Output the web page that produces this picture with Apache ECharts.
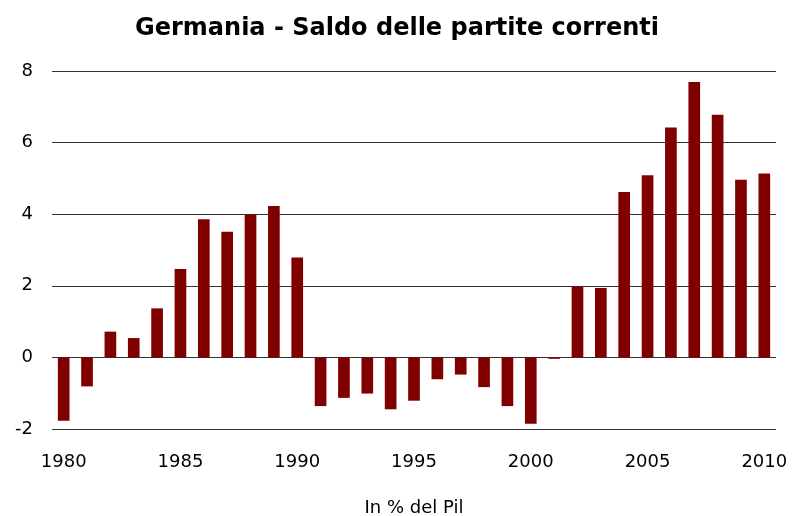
<!DOCTYPE html>
<html>
<head>
<meta charset="utf-8">
<script src="https://cdn.jsdelivr.net/npm/echarts@6/dist/echarts.min.js"></script>
<style>
  html, body { margin: 0; padding: 0; background: #fff; }
  #chart { width: 794px; height: 516px; }
</style>
</head>
<body>
<div id="chart"></div>
<script>
// anni e saldo delle partite correnti (% del Pil)
const years = [
  1980, 1981, 1982, 1983, 1984, 1985, 1986, 1987, 1988, 1989,
  1990, 1991, 1992, 1993, 1994, 1995, 1996, 1997, 1998, 1999,
  2000, 2001, 2002, 2003, 2004, 2005, 2006, 2007, 2008, 2009, 2010
]
const saldo = [
  -1.77, -0.81, 0.72, 0.54, 1.37, 2.47, 3.86, 3.51, 3.99, 4.23,
  2.79, -1.36, -1.13, -1.01, -1.45, -1.21, -0.61, -0.48, -0.83, -1.36,
  -1.85, -0.04, 1.99, 1.94, 4.62, 5.09, 6.42, 7.69, 6.78, 4.96, 5.14
]
const yTicks = [-2, 0, 2, 4, 6, 8]

const font = 'DejaVu Sans'
const chart = echarts.init(document.getElementById('chart'))
chart.setOption({
  animation: false,
  title: {
    text: 'Germania - Saldo delle partite correnti',
    left: 'center',
    top: 12,
    textStyle: { fontFamily: font, fontSize: 24, fontWeight: 'bold', color: '#000' }
  },
  grid: { left: 52, right: 18, top: 71, bottom: 87, outerBoundsMode: 'none' },
  xAxis: {
    type: 'category',
    data: years.map(String),
    axisLine: { show: false, onZero: false },
    axisTick: { show: false },
    axisLabel: {
      interval: 4,
      margin: 24,
      fontFamily: font,
      fontSize: 18,
      color: '#000'
    },
    name: 'In % del Pil',
    nameLocation: 'middle',
    nameGap: 70,
    nameTextStyle: { fontFamily: font, fontSize: 18, color: '#000' }
  },
  yAxis: {
    type: 'value',
    min: yTicks[0],
    max: yTicks[yTicks.length - 1],
    interval: 2,
    axisLine: { show: false },
    axisTick: { show: false },
    axisLabel: {
      margin: 19,
      fontFamily: font,
      fontSize: 18,
      color: '#000',
      formatter: v => String(v).replace('\u2212', '-')
    },
    splitLine: { lineStyle: { color: '#333', width: 1 } }
  },
  series: [{
    type: 'bar',
    data: saldo,
    barWidth: '50%',
    itemStyle: { color: '#800000' }
  }]
})
</script>
</body>
</html>
